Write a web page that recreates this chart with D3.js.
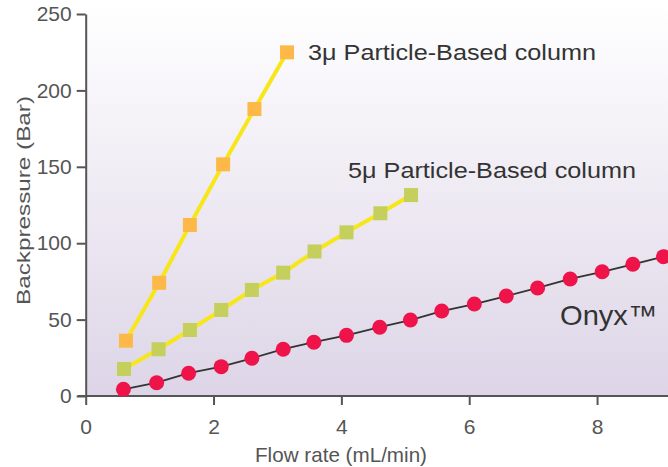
<!DOCTYPE html>
<html><head><meta charset="utf-8">
<script src="https://cdn.jsdelivr.net/npm/d3@7"></script>
<style>html,body{margin:0;padding:0;background:#fff;}svg{display:block;}</style>
</head><body>
<svg id="chart" width="668" height="467"></svg>
<script>
// Data
const flow3u = [0.63, 1.15, 1.63, 2.15, 2.64, 3.15];
const bp3u   = [36.2, 74.1, 111.9, 151.6, 187.8, 224.9];
const flow5u = [0.60, 1.14, 1.63, 2.12, 2.60, 3.09, 3.58, 4.08, 4.61, 5.09];
const bp5u   = [17.7, 30.6, 43.2, 56.3, 69.4, 80.7, 94.6, 107.1, 119.6, 131.5];
const flowOnyx = [0.59, 1.11, 1.61, 2.12, 2.60, 3.09, 3.57, 4.08, 4.60, 5.08, 5.57, 6.08, 6.58, 7.07, 7.58, 8.08, 8.56, 9.04];
const bpOnyx   = [4.4, 8.7, 14.9, 19.2, 24.7, 30.6, 35.2, 39.7, 45.0, 49.7, 55.6, 60.2, 65.4, 70.7, 76.6, 81.3, 86.2, 91.2];
const xTicks = [0, 2, 4, 6, 8];
const yTicks = [0, 50, 100, 150, 200, 250];
const labels = ["3\u03bc Particle-Based column", "5\u03bc Particle-Based column", "Onyx\u2122"];

const svg = d3.select("#chart");
const L = 85.7, R = 668, T = 14, B = 396;
const x = d3.scaleLinear().domain([0, 9.11]).range([L, R]);
const y = d3.scaleLinear().domain([0, 250]).range([B, T]);
const font = "'Liberation Sans', Arial, Helvetica, sans-serif";

// background gradient
const defs = svg.append("defs");
const g = defs.append("linearGradient").attr("id", "bg").attr("x1", 0).attr("y1", 0).attr("x2", 0).attr("y2", 1);
g.append("stop").attr("offset", "0%").attr("stop-color", "#ffffff");
g.append("stop").attr("offset", "100%").attr("stop-color", "#ddd5e7");
svg.append("rect").attr("x", L).attr("y", 0).attr("width", R - L).attr("height", B).attr("fill", "url(#bg)");

// axes
const xAxis = svg.append("g").attr("transform", `translate(0,${B})`)
  .call(d3.axisBottom(x).tickValues(xTicks).tickSize(9).tickSizeOuter(0).tickPadding(14));
const yAxis = svg.append("g").attr("transform", `translate(${L},0)`)
  .call(d3.axisLeft(y).tickValues(yTicks).tickSize(9).tickSizeOuter(0).tickPadding(5));
[xAxis, yAxis].forEach(a => {
  a.select(".domain").attr("stroke", "#555").attr("stroke-width", 2);
  a.selectAll(".tick line").attr("stroke", "#555").attr("stroke-width", 2);
  a.selectAll("text").attr("fill", "#555").style("font-family", font).style("font-size", "21px");
});
xAxis.select(".domain").attr("d", `M${L - 8},0H${R}`);

// axis titles
svg.append("text").attr("x", 341).attr("y", 462).attr("text-anchor", "middle")
  .attr("fill", "#555").style("font-family", font).style("font-size", "21px")
  .attr("textLength", 172).attr("lengthAdjust", "spacingAndGlyphs")
  .text("Flow rate (mL/min)");
svg.append("text").attr("transform", "translate(30,200.5) rotate(-90)").attr("text-anchor", "middle")
  .attr("fill", "#555").style("font-family", font).style("font-size", "19px")
  .attr("textLength", 209).attr("lengthAdjust", "spacingAndGlyphs")
  .text("Backpressure (Bar)");

const line = d3.line().x(d => x(d[0])).y(d => y(d[1]));
const d3u = flow3u.map((f, i) => [f, bp3u[i]]);
const d5u = flow5u.map((f, i) => [f, bp5u[i]]);
const dOn = flowOnyx.map((f, i) => [f, bpOnyx[i]]);

svg.append("path").datum(dOn).attr("d", line).attr("fill", "none").attr("stroke", "#333").attr("stroke-width", 1.8);
svg.append("path").datum(d5u).attr("d", line).attr("fill", "none").attr("stroke", "#f7e61a").attr("stroke-width", 4);
svg.append("path").datum(d3u).attr("d", line).attr("fill", "none").attr("stroke", "#f7e61a").attr("stroke-width", 4);

const s = 14;
svg.selectAll(".sq5").data(d5u).enter().append("rect")
  .attr("x", d => x(d[0]) - s / 2).attr("y", d => y(d[1]) - s / 2).attr("width", s).attr("height", s)
  .attr("fill", "#c4cf5c");
svg.selectAll(".sq3").data(d3u).enter().append("rect")
  .attr("x", d => x(d[0]) - s / 2).attr("y", d => y(d[1]) - s / 2).attr("width", s).attr("height", s)
  .attr("fill", "#fcb948");
svg.selectAll(".dot").data(dOn).enter().append("circle")
  .attr("cx", d => x(d[0])).attr("cy", d => y(d[1])).attr("r", 7.5)
  .attr("fill", "#ee1349");

// labels
const lab = (t, x0, y0, fs, len) => svg.append("text").attr("x", x0).attr("y", y0).attr("fill", "#333")
  .style("font-family", font).style("font-size", fs + "px")
  .attr("textLength", len).attr("lengthAdjust", "spacingAndGlyphs").text(t);
lab(labels[0], 308, 60, 22, 288);
lab(labels[1], 348, 178, 22, 288);
lab(labels[2], 560, 325, 28, 97);
</script>
</body></html>
